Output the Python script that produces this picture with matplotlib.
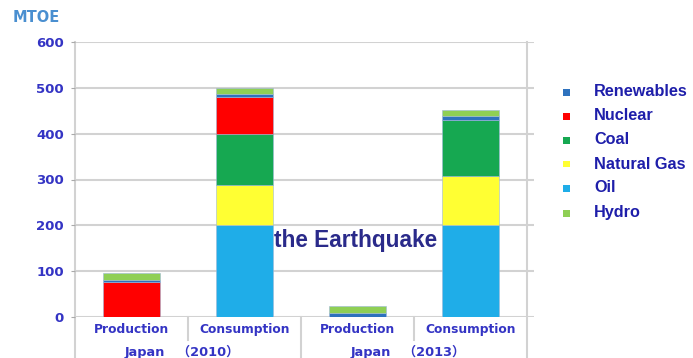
import matplotlib
matplotlib.use("Agg")
import matplotlib.pyplot as plt
from matplotlib.patches import Rectangle
from matplotlib.lines import Line2D
import matplotlib.transforms as mtransforms

categories = ["Production", "Consumption", "Production", "Consumption"]
groups = ["Japan\u3000（2010）", "Japan\u3000（2013）"]
# stacked bottom -> top
oil = [0, 200, 0, 201]
natural_gas = [0, 87, 0, 107]
coal = [0, 113, 0, 122]
nuclear = [76, 80, 0, 0]
renewables = [5, 7, 8, 9]
hydro = [16, 12, 16, 13]
yticks = [0, 100, 200, 300, 400, 500, 600]
annotation = "the Earthquake"

series = [
    ("Oil", oil, "#1FADE8"),
    ("Natural Gas", natural_gas, "#FFFF33"),
    ("Coal", coal, "#16A851"),
    ("Nuclear", nuclear, "#FF0000"),
    ("Renewables", renewables, "#2E72BE"),
    ("Hydro", hydro, "#8FCF55"),
]
legend_order = ["Renewables", "Nuclear", "Coal", "Natural Gas", "Oil", "Hydro"]
colors = {n: c for n, _, c in series}

W, H = 693, 358
fig = plt.figure(figsize=(W / 100, H / 100), dpi=100)
ax_l, ax_r, ax_b, ax_t = 75, 534, 317, 42
ax = fig.add_axes([ax_l / W, 1 - ax_b / H, (ax_r - ax_l) / W, (ax_b - ax_t) / H])
ax.set_xlim(-0.5, 3.56)
ax.set_ylim(0, 600)

x = list(range(len(categories)))
bottom = [0] * len(categories)
for name, vals, col in series:
    ax.bar(x, vals, width=0.5, bottom=bottom, color=col, edgecolor="#9DB8D8",
           linewidth=0.4, zorder=3)
    bottom = [b + v for b, v in zip(bottom, vals)]

grid_col = "#D2D2D2"
for yv in yticks:
    ax.axhline(yv, color=grid_col, lw=1.5, zorder=1)
for s in ax.spines.values():
    s.set_visible(False)

tick_col = "#3434C4"
ax.set_yticks(yticks)
ax.set_yticklabels([str(v) for v in yticks], fontfamily="DejaVu Sans",
                   fontweight="bold", fontsize=9.5, color=tick_col)
ax.tick_params(axis="y", length=3, color="#AAAAAA", width=0.8, pad=5)
ax.set_xticks(x)
ax.set_xticklabels(categories, fontfamily="DejaVu Sans", fontweight="bold",
                   fontsize=8.8, color=tick_col)
ax.tick_params(axis="x", length=0, pad=4)

trans = mtransforms.blended_transform_factory(ax.transData, ax.transAxes)
axh = ax_b - ax_t
# vertical lines: left, right, separators
for xv, y0 in [(-0.5, -41 / axh), (1.5, -41 / axh), (3.5, -41 / axh),
               (0.5, -23 / axh), (2.5, -23 / axh)]:
    top = 1.0 if xv in (-0.5, 3.5) else 0.0
    ax.add_line(Line2D([xv, xv], [y0, top], transform=trans, color=grid_col,
                       lw=1.5, clip_on=False, zorder=1))

for gx, g in zip([0.45, 2.45], groups):
    ax.text(gx, -35 / axh, g, transform=trans, ha="center", va="center",
            fontsize=9.3, fontweight="bold", color=tick_col,
            family=["DejaVu Sans", "Noto Sans CJK SC"])

ax.text(1.98, 166, annotation, ha="center", va="center", fontsize=16.3,
        fontweight="bold", color="#2A2A8A", family="Liberation Sans", zorder=5)

fig.text(13 / W, 1 - 18 / H, "MTOE", ha="left", va="center", fontsize=10.5,
         fontweight="bold", color="#4A8FD0", family="DejaVu Sans")

# legend
leg_y = [92, 116, 140, 164, 188, 213]
for yy, name in zip(leg_y, legend_order):
    fig.patches.append(Rectangle((563 / W, 1 - (yy + 3.5) / H), 7 / W, 7 / H,
                                 transform=fig.transFigure, facecolor=colors[name],
                                 edgecolor="none"))
    fig.text(594 / W, 1 - yy / H, name, ha="left", va="center", fontsize=11.7,
             fontweight="bold", color="#1E1EAA", family="Liberation Sans")

fig.savefig("out.png", dpi=100)
